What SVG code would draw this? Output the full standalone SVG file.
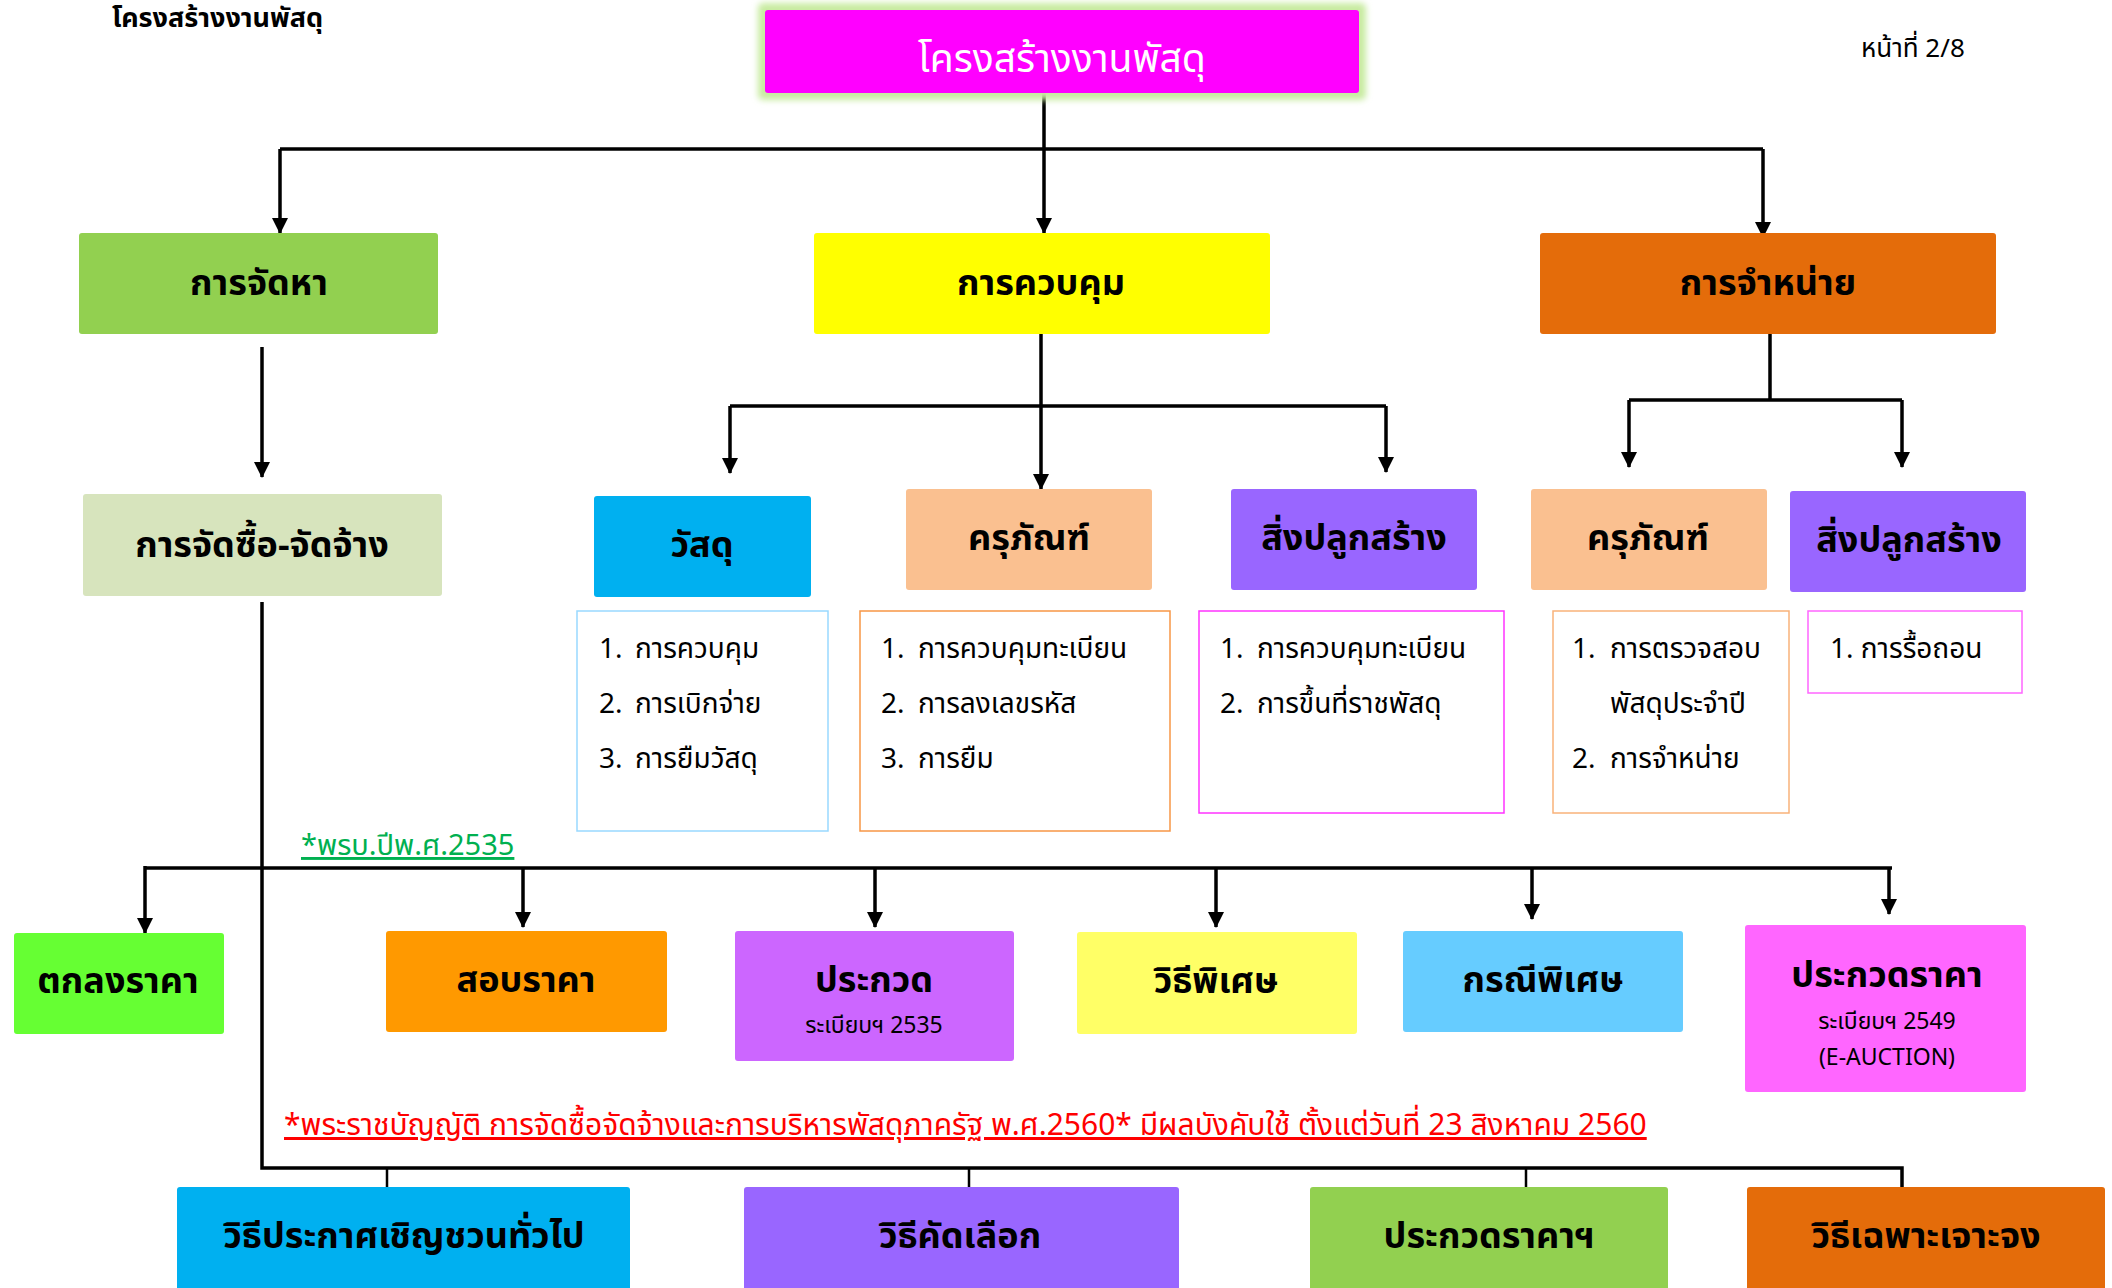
<svg xmlns="http://www.w3.org/2000/svg" width="2112" height="1288" viewBox="0 0 2112 1288">
<style>
text{font-family:'Noto Sans Thai','Noto Sans Thai UI','Noto Sans','DejaVu Sans',sans-serif;fill:#000}
.h{font-size:36px;font-weight:bold;text-anchor:middle}
.li{font-size:28px}
.sm{font-size:23px;text-anchor:middle}
.ln{fill:none;stroke:#000;stroke-width:3.5}
.st{fill:none;stroke:#000;stroke-width:2.5}
.bx{stroke-width:1.5}
</style>
<defs>
<marker id="ah" markerUnits="userSpaceOnUse" markerWidth="16" markerHeight="16" refX="15" refY="8" orient="auto">
<path d="M0,0 L16,8 L0,16 z" fill="#000"/>
</marker>
<filter id="glow" x="-10%" y="-30%" width="120%" height="160%"><feGaussianBlur stdDeviation="3"/></filter>
</defs>
<rect width="2112" height="1288" fill="#fff"/>
<g id="page-title"><text x="112" y="27" font-size="27" font-weight="bold">โครงสร้างงานพัสดุ</text></g>
<g id="page-num"><text x="1861" y="57" font-size="26">หน้าที่ 2/8</text></g>

<g id="connectors">
<path class="ln" d="M1044,93 V233" marker-end="url(#ah)"/>
<path class="ln" d="M280,149 H1763"/>
<path class="ln" d="M280,149 V233" marker-end="url(#ah)"/>
<path class="ln" d="M1763,149 V237" marker-end="url(#ah)"/>
<path class="ln" d="M262,347 V477" marker-end="url(#ah)"/>
<path class="ln" d="M1041,334 V489" marker-end="url(#ah)"/>
<path class="ln" d="M730,406 H1386"/>
<path class="ln" d="M730,406 V473" marker-end="url(#ah)"/>
<path class="ln" d="M1386,406 V472" marker-end="url(#ah)"/>
<path class="ln" d="M1770,334 V400 M1629,400 H1902"/>
<path class="ln" d="M1629,400 V467" marker-end="url(#ah)"/>
<path class="ln" d="M1902,400 V467" marker-end="url(#ah)"/>
<path class="ln" d="M262,602 V1168 H1902 V1187"/>
<path class="st" d="M387,1168 V1187 M969,1168 V1187 M1526,1168 V1187"/>
<path class="ln" d="M145,868 H1892"/>
<path class="ln" d="M145,866 V933" marker-end="url(#ah)"/>
<path class="ln" d="M523,868 V927" marker-end="url(#ah)"/>
<path class="ln" d="M875,868 V927" marker-end="url(#ah)"/>
<path class="ln" d="M1216,868 V927" marker-end="url(#ah)"/>
<path class="ln" d="M1532,868 V919" marker-end="url(#ah)"/>
<path class="ln" d="M1889,868 V914" marker-end="url(#ah)"/>
</g>

<g id="root">
<rect x="758" y="3" width="608" height="97" rx="5" fill="#c8eba0" filter="url(#glow)"/>
<rect x="765" y="10" width="594" height="83" rx="3" fill="#FF00FF"/>
<text x="1062" y="72" font-size="39" text-anchor="middle" style="fill:#fff">โครงสร้างงานพัสดุ</text>
</g>

<g id="procure">
<rect x="79" y="233" width="359" height="101" rx="3" fill="#92D050"/>
<text class="h" x="259" y="295">การจัดหา</text>
</g>
<g id="control">
<rect x="814" y="233" width="456" height="101" rx="3" fill="#FFFF00"/>
<text class="h" x="1041" y="295">การควบคุม</text>
</g>
<g id="dispose">
<rect x="1540" y="233" width="456" height="101" rx="3" fill="#E46C0A"/>
<text class="h" x="1768" y="295">การจำหน่าย</text>
</g>

<g id="purchase">
<rect x="83" y="494" width="359" height="102" rx="3" fill="#D7E4BD"/>
<text class="h" x="262" y="557">การจัดซื้อ-จัดจ้าง</text>
</g>

<g id="ctrl-material">
<rect x="594" y="496" width="217" height="101" rx="3" fill="#00B0F0"/>
<text class="h" x="702" y="557">วัสดุ</text>
</g>
<g id="ctrl-equipment">
<rect x="906" y="489" width="246" height="101" rx="3" fill="#FAC090"/>
<text class="h" x="1029" y="550">ครุภัณฑ์</text>
</g>
<g id="ctrl-building">
<rect x="1231" y="489" width="246" height="101" rx="3" fill="#9966FF"/>
<text class="h" x="1354" y="550">สิ่งปลูกสร้าง</text>
</g>
<g id="disp-equipment">
<rect x="1531" y="489" width="236" height="101" rx="3" fill="#FAC090"/>
<text class="h" x="1648" y="550">ครุภัณฑ์</text>
</g>
<g id="disp-building">
<rect x="1790" y="491" width="236" height="101" rx="3" fill="#9966FF"/>
<text class="h" x="1909" y="552">สิ่งปลูกสร้าง</text>
</g>

<g id="list-material">
<rect x="577" y="611" width="251" height="220" fill="#fff" stroke="#99D9FF" class="bx"/>
<text class="li" x="599" y="658">1.</text><text class="li" x="635" y="658">การควบคุม</text>
<text class="li" x="599" y="713">2.</text><text class="li" x="635" y="713">การเบิกจ่าย</text>
<text class="li" x="599" y="768">3.</text><text class="li" x="635" y="768">การยืมวัสดุ</text>
</g>
<g id="list-equipment">
<rect x="860" y="611" width="310" height="220" fill="#fff" stroke="#F79646" class="bx"/>
<text class="li" x="881" y="658">1.</text><text class="li" x="918" y="658">การควบคุมทะเบียน</text>
<text class="li" x="881" y="713">2.</text><text class="li" x="918" y="713">การลงเลขรหัส</text>
<text class="li" x="881" y="768">3.</text><text class="li" x="918" y="768">การยืม</text>
</g>
<g id="list-building">
<rect x="1199" y="611" width="305" height="202" fill="#fff" stroke="#FF33FF" class="bx"/>
<text class="li" x="1220" y="658">1.</text><text class="li" x="1257" y="658">การควบคุมทะเบียน</text>
<text class="li" x="1220" y="713">2.</text><text class="li" x="1257" y="713">การขึ้นที่ราชพัสดุ</text>
</g>
<g id="list-disp-equipment">
<rect x="1553" y="611" width="236" height="202" fill="#fff" stroke="#F9B27A" class="bx"/>
<text class="li" x="1572" y="658">1.</text><text class="li" x="1610" y="658">การตรวจสอบ</text>
<text class="li" x="1610" y="713">พัสดุประจำปี</text>
<text class="li" x="1572" y="768">2.</text><text class="li" x="1610" y="768">การจำหน่าย</text>
</g>
<g id="list-disp-building">
<rect x="1808" y="611" width="214" height="82" fill="#fff" stroke="#FF66FF" class="bx"/>
<text class="li" x="1830" y="658">1. การรื้อถอน</text>
</g>

<g id="note-2535"><text x="301" y="855" font-size="29" style="fill:#00B050;text-decoration:underline">*พรบ.ปีพ.ศ.2535</text></g>

<g id="m-agree">
<rect x="14" y="933" width="210" height="101" rx="3" fill="#66FF33"/>
<text class="h" x="118" y="993">ตกลงราคา</text>
</g>
<g id="m-quote">
<rect x="386" y="931" width="281" height="101" rx="3" fill="#FF9900"/>
<text class="h" x="526" y="992">สอบราคา</text>
</g>
<g id="m-contest">
<rect x="735" y="931" width="279" height="130" rx="3" fill="#CC66FF"/>
<text class="h" x="874" y="992">ประกวด</text>
<text class="sm" x="874" y="1033">ระเบียบฯ 2535</text>
</g>
<g id="m-special">
<rect x="1077" y="932" width="280" height="102" rx="3" fill="#FFFF66"/>
<text class="h" x="1216" y="993">วิธีพิเศษ</text>
</g>
<g id="m-case">
<rect x="1403" y="931" width="280" height="101" rx="3" fill="#66CCFF"/>
<text class="h" x="1543" y="992">กรณีพิเศษ</text>
</g>
<g id="m-eauction">
<rect x="1745" y="925" width="281" height="167" rx="3" fill="#FF66FF"/>
<text class="h" x="1887" y="987">ประกวดราคา</text>
<text class="sm" x="1887" y="1029">ระเบียบฯ 2549</text>
<text class="sm" x="1887" y="1065">(E-AUCTION)</text>
</g>

<g id="note-2560"><text x="284" y="1135" font-size="30" style="fill:#FF0000;text-decoration:underline">*พระราชบัญญัติ การจัดซื้อจัดจ้างและการบริหารพัสดุภาครัฐ พ.ศ.2560* มีผลบังคับใช้ ตั้งแต่วันที่ 23 สิงหาคม 2560</text></g>

<g id="n-general">
<rect x="177" y="1187" width="453" height="120" rx="3" fill="#00B0F0"/>
<text class="h" x="404" y="1248">วิธีประกาศเชิญชวนทั่วไป</text>
</g>
<g id="n-select">
<rect x="744" y="1187" width="435" height="120" rx="3" fill="#9966FF"/>
<text class="h" x="960" y="1248">วิธีคัดเลือก</text>
</g>
<g id="n-bid">
<rect x="1310" y="1187" width="358" height="120" rx="3" fill="#92D050"/>
<text class="h" x="1489" y="1248">ประกวดราคาฯ</text>
</g>
<g id="n-specific">
<rect x="1747" y="1187" width="358" height="120" rx="3" fill="#E46C0A"/>
<text class="h" x="1926" y="1248">วิธีเฉพาะเจาะจง</text>
</g>
</svg>
